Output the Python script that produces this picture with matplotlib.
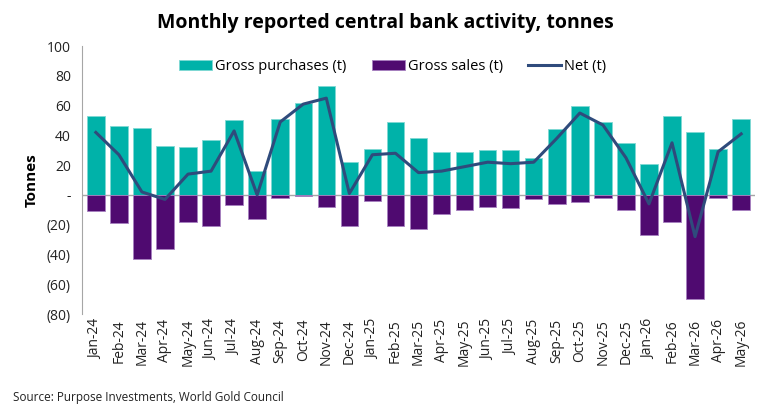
import matplotlib.pyplot as plt
import numpy as np
from matplotlib.ticker import FuncFormatter

plt.rcParams['font.family'] = ['Open Sans', 'DejaVu Sans']

months = ['Jan-24', 'Feb-24', 'Mar-24', 'Apr-24', 'May-24', 'Jun-24', 'Jul-24', 'Aug-24',
          'Sep-24', 'Oct-24', 'Nov-24', 'Dec-24', 'Jan-25', 'Feb-25', 'Mar-25', 'Apr-25',
          'May-25', 'Jun-25', 'Jul-25', 'Aug-25', 'Sep-25', 'Oct-25', 'Nov-25', 'Dec-25',
          'Jan-26', 'Feb-26', 'Mar-26', 'Apr-26', 'May-26']

gross_purchases = [53, 46, 45, 33, 32, 37, 50, 16, 51, 62, 73, 22, 31, 49, 38, 29,
                   29, 30, 30, 25, 44, 60, 49, 35, 21, 53, 42, 31, 51]
gross_sales = [-11, -19, -43, -36, -18, -21, -7, -16, -2, -1, -8, -21, -4, -21, -23, -13,
               -10, -8, -9, -3, -6, -5, -2, -10, -27, -18, -70, -2, -10]
net = [42, 27, 2, -3, 14, 16, 43, 0, 49, 61, 65, 1, 27, 28, 15, 16,
       19, 22, 21, 22, 38, 55, 47, 25, -6, 35, -28, 29, 41]

TEAL = '#00B2A9'
PURPLE = '#4F0A70'
NAVY = '#2F4B7C'

fig = plt.figure(figsize=(7.7, 4.09), dpi=100)
ax = fig.add_axes([0.1065, 0.232, 0.874, 0.6555])

x = np.arange(len(months))
b1 = ax.bar(x, gross_purchases, width=0.76, color=TEAL, edgecolor='#7fd8d3', linewidth=0.6,
            label='Gross purchases (t)', zorder=2)
b2 = ax.bar(x, gross_sales, width=0.76, color=PURPLE, edgecolor='#a780c0', linewidth=0.6,
            label='Gross sales (t)', zorder=2)
ln, = ax.plot(x, net, color=NAVY, linewidth=2.2, label='Net (t)', zorder=3)

ax.axhline(0, color='#a6a6a6', linewidth=1, zorder=1)

ax.set_ylim(-80, 100)
ax.set_yticks(np.arange(-80, 101, 20))


def fmt(v, pos):
    if v == 0:
        return '-'
    if v < 0:
        return f'({abs(v):.0f})'
    return f'{v:.0f}'


ax.yaxis.set_major_formatter(FuncFormatter(fmt))
ax.set_xlim(-0.6, len(months) - 0.4)
ax.set_xticks(x)
ax.set_xticklabels(months, rotation=90)
ax.tick_params(axis='both', length=0, labelsize=10, colors='#222222')
ax.tick_params(axis='y', pad=8)

for side in ['top', 'right', 'bottom']:
    ax.spines[side].set_visible(False)
ax.spines['left'].set_color('#a6a6a6')

ax.set_ylabel('Tonnes', fontsize=11, fontweight='bold', labelpad=6)

fig.suptitle('Monthly reported central bank activity, tonnes', x=0.5, y=0.968,
             fontsize=14, fontweight='bold')
fig.legend([b1, b2, ln], ['Gross purchases (t)', 'Gross sales (t)', 'Net (t)'],
           loc='upper center', bbox_to_anchor=(0.51, 0.8875), ncol=3, frameon=False,
           fontsize=10.5, handlelength=2.3, handletextpad=0.2, columnspacing=1.7)

fig.text(0.017, 0.02, 'Source: Purpose Investments, World Gold Council', fontsize=8.5,
         color='#222222')

fig.savefig('out.png', dpi=100)
